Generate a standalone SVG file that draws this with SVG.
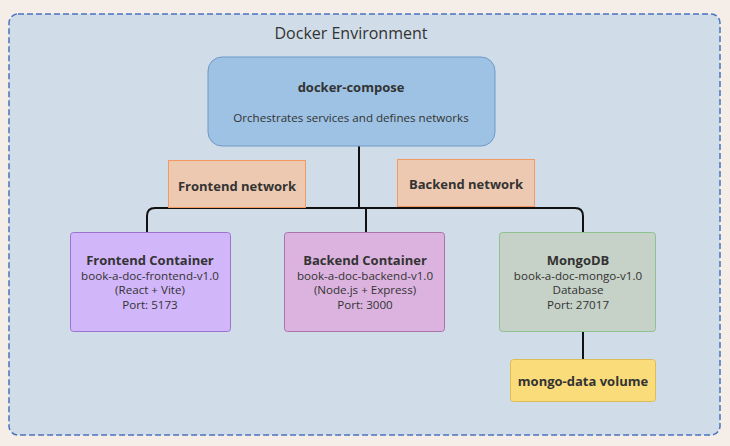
<svg xmlns="http://www.w3.org/2000/svg" width="730" height="446" viewBox="0 0 730 446">
<style>
text{font-family:"Open Sans","Noto Sans","Liberation Sans",sans-serif;fill:#333;text-anchor:middle}
.t{font-weight:bold;font-size:13px}
.s{font-size:11.6px}
.c{fill:none;stroke:#111;stroke-width:2}
</style>
<rect x="0" y="0" width="730" height="446" fill="#f5ede7"/>
<g id="docker-env">
<rect x="9" y="14" width="711" height="421" rx="9" fill="#d0dce7" stroke="#4a72c0" stroke-width="1.5" stroke-dasharray="6,3"/>
<text x="351" y="39" style="font-size:16px;fill:#333">Docker Environment</text>
</g>
<g id="connectors">
<path class="c" d="M359 146 V208"/>
<path class="c" d="M147 232 V216 Q147 208 155 208 H575 Q583 208 583 216 V232"/>
<path class="c" d="M366 208 V232"/>
<path class="c" d="M583 332 V359"/>
</g>
<g id="docker-compose">
<rect x="208" y="57" width="287" height="89" rx="14" fill="#9dc2e3" stroke="#6f99c6"/>
<text class="t" x="351" y="92">docker-compose</text>
<text class="s" x="351" y="122">Orchestrates services and defines networks</text>
</g>
<g id="frontend-network">
<rect x="168.5" y="160.5" width="137" height="47" fill="#eec9b1" stroke="#f39a62"/>
<text class="t" x="237" y="191">Frontend network</text>
</g>
<g id="backend-network">
<rect x="397.5" y="159.5" width="137" height="47" fill="#eec9b1" stroke="#f39a62"/>
<text class="t" x="466" y="189">Backend network</text>
</g>
<g id="frontend-container">
<rect x="70.5" y="232.5" width="160" height="99" rx="3" fill="#d1b6f9" stroke="#9b74d1"/>
<text class="t" x="150" y="265">Frontend Container</text>
<text class="s" x="150" y="280">book-a-doc-frontend-v1.0</text>
<text class="s" x="150" y="294">(React + Vite)</text>
<text class="s" x="150" y="309">Port: 5173</text>
</g>
<g id="backend-container">
<rect x="284.5" y="232.5" width="160" height="99" rx="3" fill="#dcb3df" stroke="#a874a9"/>
<text class="t" x="365" y="265">Backend Container</text>
<text class="s" x="365" y="280">book-a-doc-backend-v1.0</text>
<text class="s" x="365" y="294">(Node.js + Express)</text>
<text class="s" x="365" y="309">Port: 3000</text>
</g>
<g id="mongodb">
<rect x="499.5" y="232.5" width="156" height="99" rx="3" fill="#c6d1c7" stroke="#8fc08f"/>
<text class="t" x="578" y="265">MongoDB</text>
<text class="s" x="578" y="280">book-a-doc-mongo-v1.0</text>
<text class="s" x="578" y="294">Database</text>
<text class="s" x="578" y="309">Port: 27017</text>
</g>
<g id="mongo-volume">
<rect x="510.5" y="359.5" width="145" height="42" rx="3" fill="#fadc7b" stroke="#dcbd55"/>
<text class="t" x="583" y="386">mongo-data volume</text>
</g>
</svg>
